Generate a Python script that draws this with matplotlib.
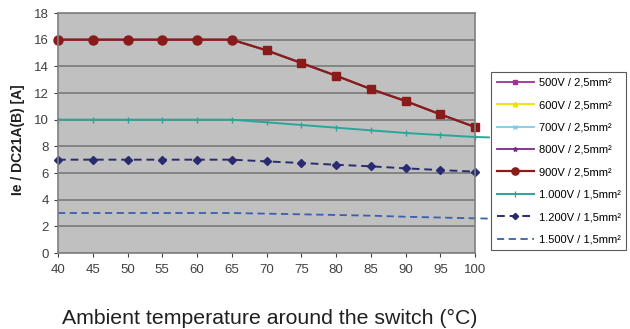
import matplotlib
matplotlib.use("Agg")
import matplotlib.pyplot as plt

plt.rcParams['font.family'] = ['Liberation Sans', 'DejaVu Sans']

temps = [40, 45, 50, 55, 60, 65, 70, 75, 80, 85, 90, 95, 100]
# 500V..900V / 2,5mm2 share the same derating curve
i_25 = [16, 16, 16, 16, 16, 16, 15.2, 14.25, 13.3, 12.3, 11.4, 10.4, 9.45]
i_1000 = [10, 10, 10, 10, 10, 10, 9.8, 9.6, 9.4, 9.2, 9.0, 8.85, 8.7]
i_1200 = [7, 7, 7, 7, 7, 7, 6.87, 6.75, 6.62, 6.5, 6.35, 6.22, 6.1]
i_1500 = [3, 3, 3, 3, 3, 3, 2.95, 2.9, 2.85, 2.8, 2.72, 2.66, 2.6]

labels_25 = ["500V / 2,5mm²", "600V / 2,5mm²", "700V / 2,5mm²", "800V / 2,5mm²", "900V / 2,5mm²"]
label_1000 = "1.000V / 1,5mm²"
label_1200 = "1.200V / 1,5mm²"
label_1500 = "1.500V / 1,5mm²"

fig = plt.figure(figsize=(6.3, 3.29), dpi=100)
ax = fig.add_axes([58/630, 1 - 253/329, 417/630, 240/329])
ax.set_facecolor('#c0c0c0')

styles = [('#a0309a', 's'), ('#f0e000', '^'), ('#80c8e8', 'x'), ('#7a2a8a', '*')]
handles = []
for lab, (c, m) in zip(labels_25[:4], styles):
    h, = ax.plot(temps, i_25, color=c, marker=m, ms=4, lw=1.3, label=lab)
    handles.append(h)

# 900V: circles on the flat part, squares on the falling part
h900, = ax.plot(temps, i_25, color='#8b1a1a', marker='o', ms=6.5, lw=1.6,
                markevery=list(range(6)), label=labels_25[4])
sq, = ax.plot(temps[6:], i_25[6:], color='#8b1a1a', marker='s', ms=5.5, lw=0)
sq.set_clip_on(False)
handles.append(h900)

h1000, = ax.plot(temps + [102], i_1000 + [i_1000[-1] - 0.03], color='#2aa59a', marker='|', ms=5,
                 lw=1.4, markevery=list(range(13)), label=label_1000)
h1200, = ax.plot(temps, i_1200, color='#2a2a70', marker='D', ms=4, lw=1.4,
                 ls=(0, (4, 2.5)), label=label_1200)
h1500, = ax.plot(temps + [102], i_1500 + [2.58], color='#3a5fb0', lw=1.3,
                 ls=(0, (4, 2.5)), label=label_1500)
handles += [h1000, h1200, h1500]

ax.set_xlim(40, 100)
ax.set_ylim(0, 18)
ax.set_xticks(temps)
ax.set_yticks(range(0, 19, 2))
ax.yaxis.grid(True, color='#7a7a7a', lw=1.2)
ax.set_axisbelow(True)
for s in ax.spines.values():
    s.set_color('#808080')
    s.set_linewidth(1.2)
ax.tick_params(labelsize=9.5, colors='#404040', length=3, width=0.8)
ax.tick_params(axis='x', pad=5)

fig.text(18/630, 1 - 140/329, "Ie / DC21A(B) [A]", rotation=90, ha='center', va='center',
         fontsize=10, fontweight='bold', color='#202020')
fig.text(270/630, 1 - 318/329, "Ambient temperature around the switch (°C)", ha='center',
         va='center', fontsize=15.3, color='#202020')

for h in handles:
    h.set_clip_on(False)

leg = fig.legend(handles=handles, loc='upper left', bbox_to_anchor=(491/630, 1 - 72/329),
                 fontsize=8, frameon=True, fancybox=False, edgecolor='#303030',
                 handlelength=3.4, labelspacing=1.12, borderpad=0.5, handletextpad=0.4,
                 markerscale=0.8, borderaxespad=0)
leg.get_frame().set_linewidth(0.8)

fig.savefig("out.png", dpi=100)
